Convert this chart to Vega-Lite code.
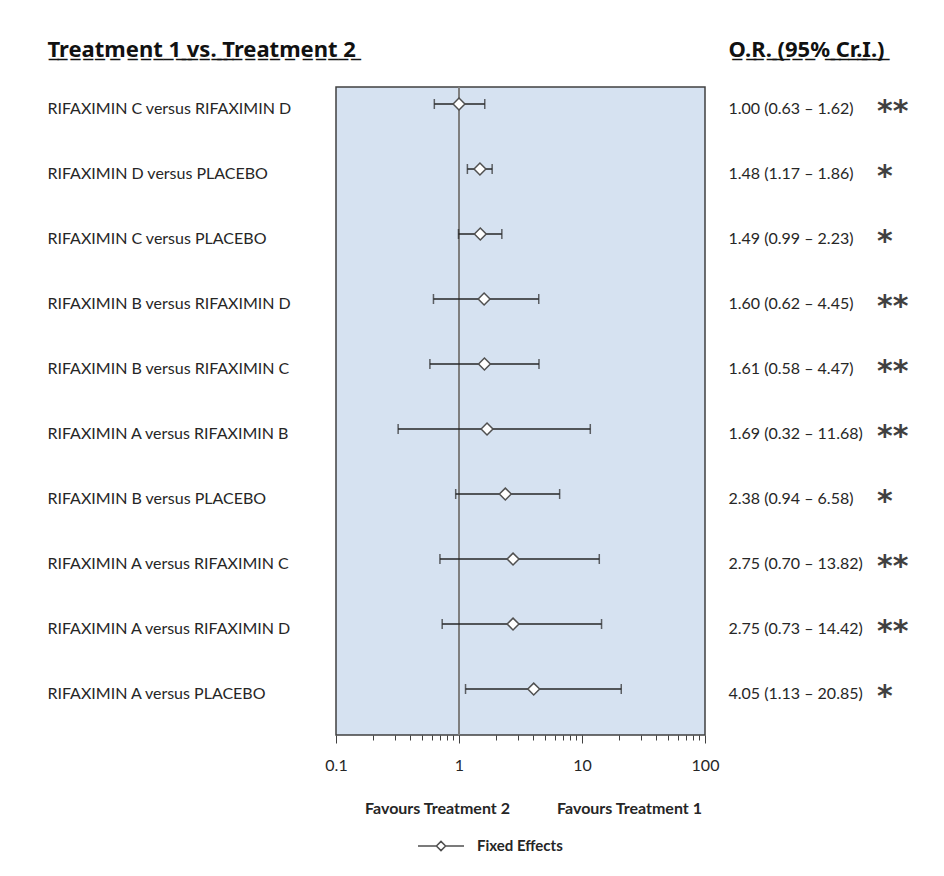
{
  "$schema": "https://vega.github.io/schema/vega-lite/v6.json",
  "width": 369,
  "height": 648,
  "autosize": {"type": "none"},
  "padding": {"left": 336, "top": 87, "right": 239, "bottom": 141},
  "background": "white",
  "config": {
    "view": {"fill": "#D6E2F1", "stroke": "#404040", "strokeWidth": 1.5},
    "font": "Lato",
    "axis": {"labelFont": "Lato", "titleFont": "Lato", "grid": false}
  },
  "datasets": {
    "rows": [
      {"comparison": "RIFAXIMIN C versus RIFAXIMIN  D", "or": 1.00, "lo": 0.63, "hi": 1.62, "label": "1.00 (0.63 – 1.62)", "stars": "**"},
      {"comparison": "RIFAXIMIN D versus PLACEBO", "or": 1.48, "lo": 1.17, "hi": 1.86, "label": "1.48 (1.17 – 1.86)", "stars": "*"},
      {"comparison": "RIFAXIMIN C versus PLACEBO", "or": 1.49, "lo": 0.99, "hi": 2.23, "label": "1.49 (0.99 – 2.23)", "stars": "*"},
      {"comparison": "RIFAXIMIN B versus RIFAXIMIN  D", "or": 1.60, "lo": 0.62, "hi": 4.45, "label": "1.60 (0.62 – 4.45)", "stars": "**"},
      {"comparison": "RIFAXIMIN B versus RIFAXIMIN  C", "or": 1.61, "lo": 0.58, "hi": 4.47, "label": "1.61 (0.58 – 4.47)", "stars": "**"},
      {"comparison": "RIFAXIMIN A versus RIFAXIMIN B", "or": 1.69, "lo": 0.32, "hi": 11.68, "label": "1.69 (0.32 – 11.68)", "stars": "**"},
      {"comparison": "RIFAXIMIN B versus PLACEBO", "or": 2.38, "lo": 0.94, "hi": 6.58, "label": "2.38 (0.94 – 6.58)", "stars": "*"},
      {"comparison": "RIFAXIMIN A versus RIFAXIMIN  C", "or": 2.75, "lo": 0.70, "hi": 13.82, "label": "2.75 (0.70 – 13.82)", "stars": "**"},
      {"comparison": "RIFAXIMIN A versus RIFAXIMIN  D", "or": 2.75, "lo": 0.73, "hi": 14.42, "label": "2.75 (0.73 – 14.42)", "stars": "**"},
      {"comparison": "RIFAXIMIN A versus PLACEBO", "or": 4.05, "lo": 1.13, "hi": 20.85, "label": "4.05 (1.13 – 20.85)", "stars": "*"}
    ]
  },
  "data": {"name": "rows"},
  "layer": [
    {
      "layer": [
        {
          "mark": {"type": "rule", "color": "#7f7f7f", "strokeWidth": 1.5},
          "encoding": {
            "x": {"datum": 1, "type": "quantitative", "scale": {"type": "log", "domain": [0.1, 100], "nice": false}}
          }
        },
        {
          "mark": {"type": "point", "opacity": 0},
          "encoding": {
            "x": {"field": "or", "type": "quantitative", "scale": {"type": "log", "domain": [0.1, 100], "nice": false}},
            "y": {
              "field": "label", "type": "nominal", "sort": null,
              "scale": {"type": "point", "padding": 0.4846, "align": 0.27},
              "axis": {
                "orient": "right", "ticks": false, "domain": false,
                "labelPadding": 23, "labelOffset": 4, "labelFontSize": 16, "labelColor": "#262626", "labelLimit": 0,
                "title": "O\u0332.\u0332R\u0332.\u0332 \u0332(\u03329\u03325\u0332%\u0332 \u0332C\u0332r\u0332.\u0332I\u0332.\u0332)\u0332", "titleAngle": 0, "titleX": 23, "titleY": -31,
                "titleAlign": "left", "titleBaseline": "alphabetic", "titleFontSize": 22, "titleFontWeight": "bold", "titleColor": "#111111", "titleFont": "Noto Sans"
              }
            }
          }
        }
      ],
      "encoding": {
        "x": {
          "axis": {
            "orient": "bottom", "labels": false, "ticks": false, "domain": false,
            "title": "Favours Treatment 2", "titleX": 101, "titleY": 73, "titleAlign": "center", "titleBaseline": "middle",
            "titleFontSize": 16, "titleFontWeight": "bold", "titleColor": "#262626"
          }
        }
      }
    },
    {
      "encoding": {
        "y": {
          "field": "comparison", "type": "nominal", "sort": null,
          "scale": {"type": "point", "padding": 0.4846, "align": 0.27},
          "axis": {
            "orient": "left", "ticks": false, "domain": false,
            "labelAlign": "left", "labelPadding": 289, "labelBaseline": "middle", "labelOffset": 4,
            "labelFontSize": 16, "labelColor": "#262626", "labelLimit": 0,
            "title": "T\u0332r\u0332e\u0332a\u0332t\u0332m\u0332e\u0332n\u0332t\u0332 \u03321\u0332 \u0332v\u0332s\u0332.\u0332 \u0332T\u0332r\u0332e\u0332a\u0332t\u0332m\u0332e\u0332n\u0332t\u0332 \u03322\u0332", "titleAngle": 0, "titleX": -289, "titleY": -31,
            "titleAlign": "left", "titleBaseline": "alphabetic", "titleFontSize": 22, "titleFontWeight": "bold", "titleColor": "#111111", "titleFont": "Noto Sans"
          }
        }
      },
      "layer": [
        {
          "mark": {"type": "rule", "color": "#262626", "strokeWidth": 1.5},
          "encoding": {
            "x": {
              "field": "lo", "type": "quantitative",
              "scale": {"type": "log", "domain": [0.1, 100], "nice": false},
              "axis": {
                "orient": "bottom",
                "values": [0.1, 0.2, 0.3, 0.4, 0.5, 0.6, 0.7, 0.8, 0.9, 1, 2, 3, 4, 5, 6, 7, 8, 9, 10, 20, 30, 40, 50, 60, 70, 80, 90, 100],
                "tickSize": {"condition": {"test": "abs(log(datum.value)/LN10 - round(log(datum.value)/LN10)) < 0.001", "value": 8}, "value": 5},
                "tickColor": "#404040", "tickWidth": 1, "domain": false, "labelFlush": false, "labelOverlap": false,
                "labelExpr": "abs(log(datum.value)/LN10 - round(log(datum.value)/LN10)) < 0.001 ? format(datum.value, '~g') : ''",
                "labelFontSize": 16, "labelPadding": 14, "labelColor": "#262626",
                "title": "Favours Treatment 1", "titleX": 293, "titleY": 73, "titleAlign": "center", "titleBaseline": "middle",
                "titleFontSize": 16, "titleFontWeight": "bold", "titleColor": "#262626"
              }
            },
            "x2": {"field": "hi"}
          }
        },
        {
          "mark": {"type": "tick", "orient": "vertical", "size": 10, "thickness": 1.5, "color": "#262626"},
          "encoding": {"x": {"field": "lo", "type": "quantitative"}}
        },
        {
          "mark": {"type": "tick", "orient": "vertical", "size": 10, "thickness": 1.5, "color": "#262626"},
          "encoding": {"x": {"field": "hi", "type": "quantitative"}}
        },
        {
          "mark": {"type": "point", "shape": "diamond", "filled": false, "fill": "white", "fillOpacity": 1, "strokeWidth": 1.5, "size": 140, "opacity": 1},
          "encoding": {
            "x": {"field": "or", "type": "quantitative"},
            "color": {
              "datum": "Fixed Effects",
              "scale": {"range": ["#505050"]},
              "legend": {
                "orient": "none", "legendX": 81, "legendY": 735, "title": null,
                "symbolType": "M-1,0L-0.2,0M0.2,0L1,0M-0.2,0L0,-0.2L0.2,0L0,0.2Z",
                "symbolSize": 2116, "symbolStrokeWidth": 1.5, "symbolFillColor": "white", "symbolStrokeColor": "#404040",
                "labelFontSize": 15, "labelFontWeight": "bold", "labelColor": "#262626", "labelOffset": 12, "labelFont": "Lato"
              }
            }
          }
        },
        {
          "mark": {"type": "text", "align": "left", "baseline": "middle", "dx": 172, "dy": 8, "fontSize": 30, "fontWeight": "bold", "font": "DejaVu Sans", "color": "#404040"},
          "encoding": {
            "x": {"datum": 100, "type": "quantitative"},
            "text": {"field": "stars"}
          }
        }
      ]
    }
  ],
  "resolve": {"scale": {"y": "independent"}, "axis": {"y": "independent", "x": "independent"}}
}
